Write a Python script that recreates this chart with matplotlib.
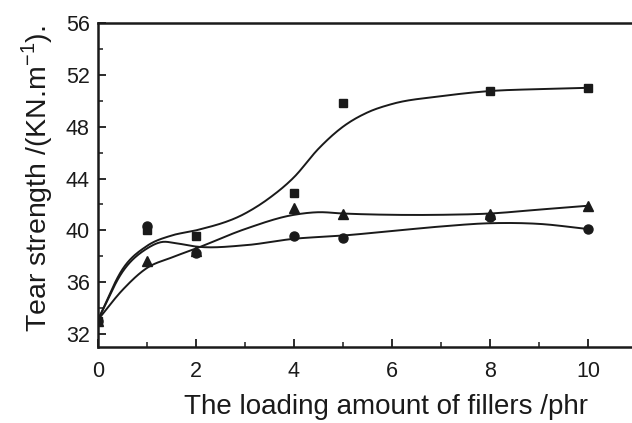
import numpy as np
import matplotlib
matplotlib.use("Agg")
import matplotlib.pyplot as plt
from matplotlib.ticker import MultipleLocator

plt.rcParams['font.family'] = ['Liberation Sans', 'DejaVu Sans']

# measured points
x_pts = [0, 1, 2, 4, 5, 8, 10]
sq_pts = [33.0, 40.0, 39.6, 42.9, 49.8, 50.75, 51.0]
ci_pts = [33.0, 40.3, 38.25, 39.6, 39.4, 41.0, 40.1]
tr_pts = [33.0, 37.6, 38.4, 41.7, 41.25, 41.3, 41.9]

# fitted curves
sq_fit_x = [0, 0.5, 1, 1.5, 2, 3, 3.5, 4, 4.5, 5, 5.5, 6, 7, 8, 9, 10]
sq_fit_y = [33.1, 37.0, 38.8, 39.6, 40.0, 41.3, 42.5, 44.1, 46.3, 48.0, 49.1, 49.75, 50.35, 50.75, 50.9, 51.0]
ci_fit_x = [0, 0.5, 1, 1.3, 1.6, 2, 3, 4, 5, 6, 7, 8, 9, 10]
ci_fit_y = [33.1, 36.8, 38.6, 39.1, 39.0, 38.75, 38.85, 39.35, 39.6, 39.95, 40.3, 40.55, 40.5, 40.1]
tr_fit_x = [0, 0.5, 1, 1.5, 2, 3, 4, 4.5, 5, 6, 7, 8, 9, 10]
tr_fit_y = [33.1, 35.4, 37.1, 37.9, 38.6, 40.1, 41.2, 41.4, 41.3, 41.2, 41.2, 41.3, 41.6, 41.9]

x_ticks = [0, 2, 4, 6, 8, 10]
y_ticks = [32, 36, 40, 44, 48, 52, 56]


def smooth(xk, yk, n=400):
    xk = np.asarray(xk, float)
    yk = np.asarray(yk, float)
    m = np.zeros_like(yk)
    d = np.diff(yk) / np.diff(xk)
    m[0] = d[0]
    m[-1] = d[-1]
    for i in range(1, len(xk) - 1):
        m[i] = (d[i - 1] * (xk[i + 1] - xk[i]) + d[i] * (xk[i] - xk[i - 1])) / (xk[i + 1] - xk[i - 1])
    xs = np.linspace(xk[0], xk[-1], n)
    idx = np.clip(np.searchsorted(xk, xs) - 1, 0, len(xk) - 2)
    h = xk[idx + 1] - xk[idx]
    t = (xs - xk[idx]) / h
    h00 = 2 * t**3 - 3 * t**2 + 1
    h10 = t**3 - 2 * t**2 + t
    h01 = -2 * t**3 + 3 * t**2
    h11 = t**3 - t**2
    ys = h00 * yk[idx] + h10 * h * m[idx] + h01 * yk[idx + 1] + h11 * h * m[idx + 1]
    return xs, ys


fig = plt.figure(figsize=(6.32, 4.23), dpi=100)
ax = fig.add_axes([98 / 632, 76 / 423, 534 / 632, 324 / 423])

for fx, fy in [(sq_fit_x, sq_fit_y), (ci_fit_x, ci_fit_y), (tr_fit_x, tr_fit_y)]:
    xs, ys = smooth(fx, fy)
    ax.plot(xs, ys, color='#1a1a1a', lw=1.4, zorder=2)

ax.plot(x_pts, sq_pts, 's', color='#1a1a1a', ms=6, ls='none', zorder=3)
ax.plot(x_pts, tr_pts, '^', color='#1a1a1a', ms=6.5, ls='none', zorder=3)
ax.plot(x_pts, ci_pts, 'o', color='#1a1a1a', ms=6.5, ls='none', zorder=4)

ax.set_xlim(0, 534 / 49)
ax.set_ylim(31, 56)
ax.set_xticks(x_ticks)
ax.set_yticks(y_ticks)
ax.xaxis.set_minor_locator(MultipleLocator(1))
ax.yaxis.set_minor_locator(MultipleLocator(2))
ax.tick_params(which='major', direction='in', length=6, width=1.3, labelsize=15.5,
               top=False, right=False, colors='#1a1a1a')
ax.tick_params(axis='x', which='major', pad=10)
ax.tick_params(axis='y', which='major', pad=6)
ax.tick_params(which='minor', direction='in', length=3.5, width=1.1,
               top=False, right=False, colors='#1a1a1a')
for s in ['left', 'bottom', 'top']:
    ax.spines[s].set_linewidth(1.8)
    ax.spines[s].set_color('#1a1a1a')
ax.spines['right'].set_visible(False)

ax.set_xlabel('The loading amount of fillers /phr', fontsize=20, color='#1a1a1a')
ax.set_ylabel('Tear strength /(KN.m$^{\\mathregular{-1}}$).', fontsize=20.5, color='#1a1a1a')
ax.xaxis.set_label_coords(0.539, -0.145)
ax.yaxis.set_label_coords(-0.08, 0.52)

fig.savefig('out.png', dpi=100)
